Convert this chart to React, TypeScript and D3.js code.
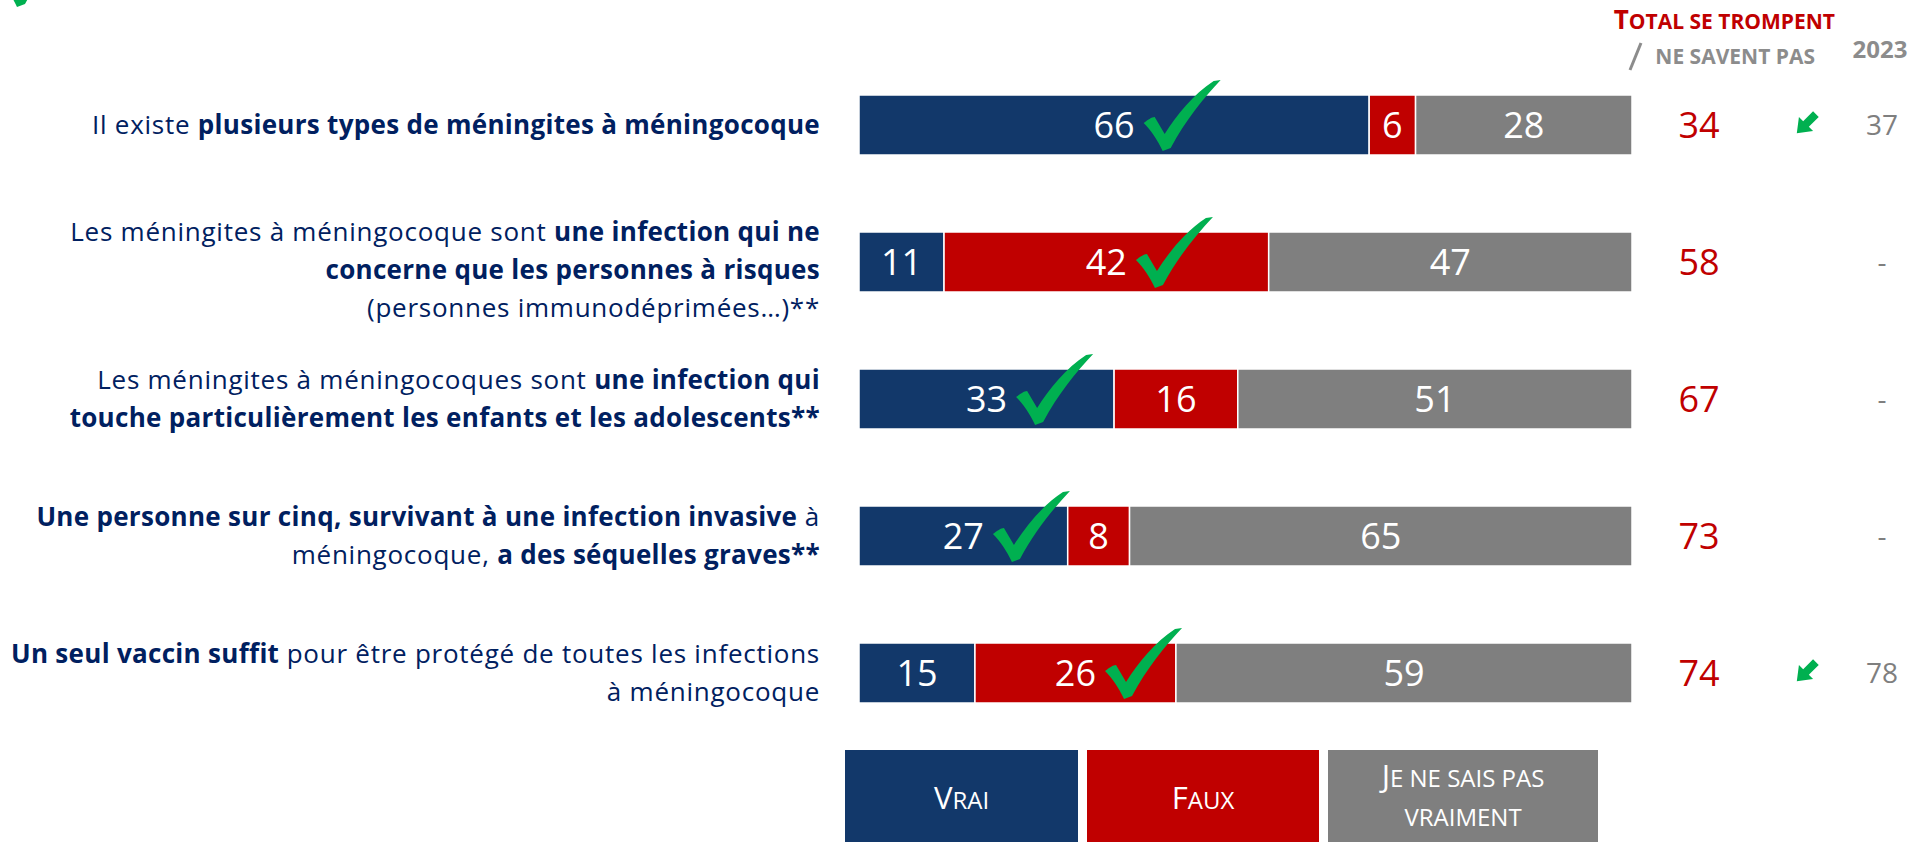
import React, { useEffect, useRef } from "react";
import * as d3 from "d3";

// each statement = lines, each line = runs [text, bold]
const statements: [string, boolean][][][] = [
  [[["Il existe ", false], ["plusieurs types de méningites à méningocoque", true]]],
  [
    [["Les méningites à méningocoque sont ", false], ["une infection qui ne", true]],
    [["concerne que les personnes à risques", true]],
    [["(personnes immunodéprimées…)**", false]],
  ],
  [
    [["Les méningites à méningocoques sont ", false], ["une infection qui", true]],
    [["touche particulièrement les enfants et les adolescents**", true]],
  ],
  [
    [["Une personne sur cinq, survivant à une infection invasive", true], [" à", false]],
    [["méningocoque, ", false], ["a des séquelles graves**", true]],
  ],
  [
    [["Un seul vaccin suffit", true], [" pour être protégé de toutes les infections", false]],
    [["à méningocoque", false]],
  ],
];

const vrai = [66, 11, 33, 27, 15];
const faux = [6, 42, 16, 8, 26];
const nsp = [28, 47, 51, 65, 59];
const totalWrong = [34, 58, 67, 73, 74];
const previous2023 = ["37", "-", "-", "-", "78"];
const trend = ["down", "", "", "", "down"];
const goodAnswer = ["vrai", "faux", "vrai", "vrai", "faux"];

const answerKeys = ["vrai", "faux", "nsp"];
const answerLabels = [["Vrai"], ["Faux"], ["Je ne sais pas", "vraiment"]];

const colors: Record<string, string> = { vrai: "#12386A", faux: "#C00000", nsp: "#7F7F7F" };
const navy = "#002060";
const green = "#00B050";
const grey = "#7F7F7F";
const font = "'Open Sans', sans-serif";

const checkPath =
  "M0,43 C4,40 8,37 11,37 L21,54 C33,35 50,14 70,1 L77,0 C60,18 42,40 27,68 L19,71 C14,60 7,50 0,43 Z";
const arrowPath = "M-4,-14 L4,-14 L4,0 L10,0 L0,13 L-10,0 L-4,0 Z";

// small caps : capitals big, lower case as smaller capitals
function smallCaps(sel: any, str: string, big: number, small: number) {
  const runs: { t: string; up: boolean }[] = [];
  for (const ch of str) {
    const up = ch !== " " && ch === ch.toUpperCase() && ch !== ch.toLowerCase();
    const last = runs[runs.length - 1];
    if (last && last.up === up) last.t += ch;
    else runs.push({ t: ch, up });
  }
  runs.forEach((r) => {
    sel.append("tspan").attr("font-size", r.up ? big : small).text(r.t.toUpperCase());
  });
}

export default function App() {
  const ref = useRef<SVGSVGElement>(null);

  useEffect(() => {
    const svg = d3.select(ref.current);
    svg.selectAll("*").remove();

    const x = d3.scaleLinear().domain([0, 100]).range([859, 1632]);
    const y = d3
      .scaleBand<number>()
      .domain(d3.range(vrai.length))
      .range([56.5, 741.5])
      .paddingInner(0.562)
      .paddingOuter(0.281);

    const table = vrai.map((v, i) => ({ vrai: v, faux: faux[i], nsp: nsp[i] }));
    const series = d3.stack<any>().keys(answerKeys)(table);

    // little check cut off in the corner
    svg.append("path").attr("d", checkPath).attr("fill", green).attr("transform", "translate(-2,-64)");

    // statements
    statements.forEach((lines, i) => {
      const cy = y(i)! + y.bandwidth() / 2 + (lines.length === 3 ? 8 : 0);
      lines.forEach((runs, j) => {
        const t = svg
          .append("text")
          .attr("x", 820)
          .attr("y", cy + (j - (lines.length - 1) / 2) * 38 + 9)
          .attr("text-anchor", "end")
          .attr("font-family", font)
          .attr("font-size", 26)
          .attr("fill", navy)
          .style("white-space", "pre");
        runs.forEach(([s, b]) => {
          t.append("tspan")
            .attr("font-weight", b ? 700 : 400)
            .attr("letter-spacing", b ? 0.3 : 0.75)
            .text(s);
        });
      });
    });

    // bars
    const g = svg.append("g");
    series.forEach((s) => {
      s.forEach((d, i) => {
        const key = s.key;
        g.append("rect")
          .attr("x", x(d[0]))
          .attr("y", y(i)!)
          .attr("width", x(d[1]) - x(d[0]))
          .attr("height", y.bandwidth())
          .attr("fill", colors[key])
          .attr("stroke", "#fff")
          .attr("stroke-width", 1.5);
        const cx = (x(d[0]) + x(d[1])) / 2;
        const cy = y(i)! + y.bandwidth() / 2;
        const lab = g
          .append("text")
          .attr("x", cx)
          .attr("y", cy)
          .attr("dy", "0.35em")
          .attr("text-anchor", "middle")
          .attr("font-family", font)
          .attr("font-size", 36)
          .attr("fill", "#fff")
          .text(d[1] - d[0]);
        if (goodAnswer[i] === key) {
          const w = (lab.node() as SVGTextElement).getComputedTextLength();
          g.append("path")
            .attr("d", checkPath)
            .attr("fill", green)
            .attr("transform", `translate(${cx + w / 2 + 9},${y(i)! - 15})`);
        }
      });
    });

    // totals and 2023
    totalWrong.forEach((v, i) => {
      const cy = y(i)! + y.bandwidth() / 2;
      svg.append("text")
        .attr("x", 1699)
        .attr("y", cy)
        .attr("dy", "0.35em")
        .attr("text-anchor", "middle")
        .attr("font-family", font)
        .attr("font-size", 36)
        .attr("fill", colors.faux)
        .text(v);
      svg.append("text")
        .attr("x", 1882)
        .attr("y", cy)
        .attr("dy", "0.35em")
        .attr("text-anchor", "middle")
        .attr("font-family", font)
        .attr("font-size", 28)
        .attr("fill", grey)
        .text(previous2023[i]);
      if (trend[i] === "down") {
        svg.append("path")
          .attr("d", arrowPath)
          .attr("fill", green)
          .attr("transform", `translate(1806,${cy - 1}) rotate(45)`);
      }
    });

    // headers
    const h1 = svg.append("text")
      .attr("x", 1835).attr("y", 29)
      .attr("text-anchor", "end")
      .attr("font-family", font).attr("font-weight", 700)
      .attr("fill", colors.faux).style("white-space", "pre");
    smallCaps(h1, "Total se trompent", 26, 21);

    // the slash in front of "ne savent pas"
    svg.append("line")
      .attr("x1", 1630).attr("y1", 70)
      .attr("x2", 1641).attr("y2", 43)
      .attr("stroke", "#8C8C8C")
      .attr("stroke-width", 3);

    svg.append("text")
      .attr("x", 1815).attr("y", 64)
      .attr("text-anchor", "end")
      .attr("font-family", font).attr("font-weight", 700)
      .attr("font-size", 21)
      .attr("fill", "#8C8C8C")
      .text("NE SAVENT PAS");

    svg.append("text")
      .attr("x", 1880).attr("y", 58)
      .attr("text-anchor", "middle")
      .attr("font-family", font).attr("font-weight", 700)
      .attr("font-size", 24).attr("fill", "#8C8C8C")
      .text("2023");

    // legend
    const legendBoxes = [
      { x: 845, w: 233 },
      { x: 1087, w: 232 },
      { x: 1328, w: 270 },
    ];
    answerKeys.forEach((k, i) => {
      const b = legendBoxes[i];
      svg.append("rect")
        .attr("x", b.x).attr("y", 750)
        .attr("width", b.w).attr("height", 120)
        .attr("fill", colors[k]);
      const lines = answerLabels[i];
      lines.forEach((l, j) => {
        const t = svg.append("text")
          .attr("x", b.x + b.w / 2)
          .attr("y", lines.length === 1 ? 809 : 787 + j * 39)
          .attr("text-anchor", "middle")
          .attr("font-family", font)
          .attr("fill", "#fff")
          .style("white-space", "pre");
        smallCaps(t, l, 31, 24);
      });
    });
  }, []);

  return (
    <svg
      ref={ref}
      width={1913}
      height={842}
      style={{ position: "absolute", left: 0, top: 0, background: "#fff", display: "block" }}
    />
  );
}
